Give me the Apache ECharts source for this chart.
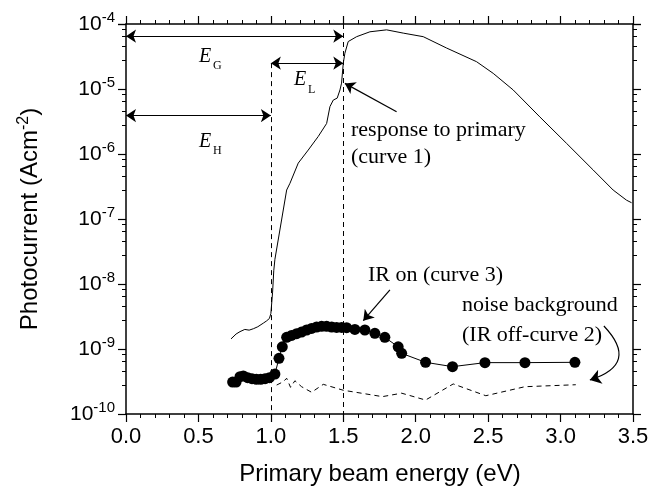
<!DOCTYPE html>
<html>
<head>
<meta charset="utf-8">
<script src="https://cdn.jsdelivr.net/npm/echarts@6/dist/echarts.min.js"></script>
<style>
  html, body { margin: 0; padding: 0; background: #fff; }
</style>
</head>
<body>
<div style="width:661px;height:491px;" id="photo_con"></div>
<script>
// curve 1 - response to primary
var curve1X = [0.725, 0.76, 0.787, 0.82, 0.85, 0.879, 0.91, 0.948, 0.97, 0.99, 1.0, 1.012, 1.02, 1.028, 1.109, 1.132, 1.189, 1.258, 1.327, 1.385, 1.408, 1.431, 1.458, 1.477, 1.488, 1.5, 1.511, 1.534, 1.592, 1.684, 1.799, 1.914, 2.052, 2.213, 2.42, 2.535, 2.673, 2.857, 3.041, 3.225, 3.363, 3.455, 3.49];
var curve1Y = [1.43e-9, 1.7e-9, 1.85e-9, 2.0e-9, 1.95e-9, 2.05e-9, 2.2e-9, 2.5e-9, 2.7e-9, 2.95e-9, 3.5e-9, 7.5e-9, 1.6e-8, 2.4e-8, 2.79e-7, 3.55e-7, 7.24e-7, 1.15e-6, 1.86e-6, 2.95e-6, 5.37e-6, 6.76e-6, 7.24e-6, 9.66e-6, 1.23e-5, 2.51e-5, 3.55e-5, 5.37e-5, 6.38e-5, 7.59e-5, 8.13e-5, 7.24e-5, 6.38e-5, 4.27e-5, 2.63e-5, 1.74e-5, 9.66e-6, 3.72e-6, 1.46e-6, 5.68e-7, 2.79e-7, 1.95e-7, 1.78e-7];

// curve 2 - noise background (IR off)
var curve2X = [1.04, 1.086, 1.109, 1.136, 1.166, 1.212, 1.281, 1.362, 1.5, 1.77, 1.903, 2.068, 2.259, 2.484, 2.754, 3.105];
var curve2Y = [2.79e-10, 3.14e-10, 3.55e-10, 2.57e-10, 3.25e-10, 2.63e-10, 2.16e-10, 2.86e-10, 2.32e-10, 1.85e-10, 2.09e-10, 1.64e-10, 2.9e-10, 1.91e-10, 2.63e-10, 2.82e-10];

// curve 3 - IR on
var curve3X = [0.736, 0.76, 0.787, 0.81, 0.84, 0.87, 0.9, 0.93, 0.96, 0.99, 1.028, 1.056, 1.079, 1.109, 1.143, 1.178, 1.212, 1.247, 1.281, 1.316, 1.35, 1.385, 1.42, 1.454, 1.489, 1.523, 1.58, 1.649, 1.718, 1.787, 1.879, 1.903, 2.068, 2.254, 2.478, 2.754, 3.099];
var curve3Y = [3.1e-10, 3.1e-10, 3.75e-10, 3.85e-10, 3.62e-10, 3.5e-10, 3.42e-10, 3.42e-10, 3.5e-10, 3.62e-10, 4.12e-10, 7.18e-10, 1.08e-9, 1.51e-9, 1.62e-9, 1.72e-9, 1.82e-9, 1.96e-9, 2.07e-9, 2.18e-9, 2.23e-9, 2.23e-9, 2.18e-9, 2.15e-9, 2.15e-9, 2.13e-9, 2.0e-9, 1.96e-9, 1.74e-9, 1.51e-9, 1.08e-9, 8.57e-10, 6.24e-10, 5.35e-10, 6.17e-10, 6.17e-10, 6.24e-10];

var xMin = 0, xMax = 3.5, yMin = 1e-10, yMax = 1e-4;

function pairs(xs, ys) {
    var out = [];
    for (var i = 0; i < xs.length; i++) {
        out.push([xs[i], ys[i]]);
    }
    return out;
}

var chart = echarts.init(document.getElementById('photo_con'));
var black = '#000';
var sansFont = '"Liberation Sans", Arial, sans-serif';
var serifFont = '"Liberation Serif", "Times New Roman", serif';

var supLabel = function (v) {
    var e = Math.round(Math.log10(v));
    return '{b|10}{s|' + e + '}';
};

function axisLine() { return { show: true, onZero: false, lineStyle: { color: black, width: 1.5 } }; }
function majorTick() { return { show: true, length: 8, lineStyle: { color: black, width: 1.2 } }; }
function minorTickX() { return { show: true, splitNumber: 5, length: 4, lineStyle: { color: black, width: 1 } }; }
function minorTickY() { return { show: true, length: 4, lineStyle: { color: black, width: 1 } }; }

var option = {
    animation: false,
    grid: { left: 126, right: 28, top: 24, bottom: 77 },
    xAxis: [
        {
            type: 'value', min: xMin, max: xMax, interval: 0.5,
            axisLine: axisLine(),
            axisTick: majorTick(),
            minorTick: minorTickX(),
            axisLabel: {
                fontFamily: sansFont, fontSize: 22, color: black, margin: 12,
                formatter: function (v) { return v.toFixed(1); }
            },
            splitLine: { show: false }
        },
        {
            type: 'value', min: xMin, max: xMax, interval: 0.5, position: 'top',
            axisLine: axisLine(),
            axisTick: majorTick(),
            minorTick: minorTickX(),
            axisLabel: { show: false },
            splitLine: { show: false }
        }
    ],
    yAxis: [
        {
            type: 'log', logBase: 10, min: yMin, max: yMax,
            axisLine: axisLine(),
            axisTick: majorTick(),
            minorTick: minorTickY(),
            axisLabel: {
                margin: 11,
                formatter: supLabel,
                rich: {
                    b: { fontFamily: sansFont, fontSize: 21, color: black },
                    s: { fontFamily: sansFont, fontSize: 15, color: black, verticalAlign: 'top', padding: [0, 0, 12, 0] }
                }
            },
            splitLine: { show: false }
        },
        {
            type: 'log', logBase: 10, min: yMin, max: yMax, position: 'right',
            axisLine: axisLine(),
            axisTick: majorTick(),
            minorTick: minorTickY(),
            axisLabel: { show: false },
            splitLine: { show: false }
        }
    ],
    series: [
        {
            name: 'curve 1',
            type: 'line',
            data: pairs(curve1X, curve1Y),
            showSymbol: false,
            symbol: 'none',
            lineStyle: { color: black, width: 1 },
            z: 3
        },
        {
            name: 'curve 2',
            type: 'line',
            data: pairs(curve2X, curve2Y),
            showSymbol: false,
            symbol: 'none',
            lineStyle: { color: black, width: 1, type: [5, 4] }
        },
        {
            name: 'curve 3',
            type: 'line',
            data: pairs(curve3X, curve3Y),
            symbol: 'circle',
            symbolSize: 11,
            showSymbol: true,
            itemStyle: { color: black },
            lineStyle: { color: black, width: 1 },
            z: 4
        },
        {
            // E_G, E_L, E_H double arrows
            name: 'gaps',
            type: 'lines',
            coordinateSystem: 'cartesian2d',
            silent: true,
            symbol: ['arrow', 'arrow'],
            symbolSize: 10,
            lineStyle: { color: black, width: 1.2, opacity: 1 },
            data: [
                { coords: [[0, 6.5e-5], [1.5, 6.5e-5]] },
                { coords: [[1.0, 2.5e-5], [1.5, 2.5e-5]] },
                { coords: [[0, 3.9e-6], [1.0, 3.9e-6]] }
            ]
        },
        {
            // pointers to curves 1 and 3
            name: 'pointers',
            type: 'lines',
            coordinateSystem: 'cartesian2d',
            silent: true,
            symbol: ['none', 'arrow'],
            symbolSize: 10,
            lineStyle: { color: black, width: 1.2, opacity: 1 },
            data: [
                { coords: [[1.868, 4.48e-6], [1.511, 1.22e-5]] },
                { coords: [[1.822, 8.1e-9], [1.638, 2.73e-9]] }
            ]
        },
        {
            // curved pointer to the noise background
            name: 'curved pointer',
            type: 'lines',
            coordinateSystem: 'cartesian2d',
            silent: true,
            symbol: ['none', 'arrow'],
            symbolSize: 11,
            lineStyle: { color: black, width: 1.2, curveness: 0.8, opacity: 1 },
            data: [{ coords: [[3.299, 2.26e-9], [3.202, 3.34e-10]] }]
        },
        {
            // dashed guides at 1.0 and 1.5 eV
            name: 'guides',
            type: 'lines',
            coordinateSystem: 'cartesian2d',
            silent: true,
            symbol: ['none', 'none'],
            lineStyle: { color: black, width: 1, type: [5, 4], opacity: 1 },
            data: [
                { coords: [[1.0, 2.5e-5], [1.0, 1e-10]] },
                { coords: [[1.5, 1e-4], [1.5, 1e-10]] }
            ]
        }
    ],
    graphic: [
        { type: 'text', x: 380, y: 474, style: { text: 'Primary beam energy (eV)', font: '24px ' + sansFont, fill: black, align: 'center', verticalAlign: 'middle' } },
        {
            type: 'text', x: 30, y: 219, rotation: Math.PI / 2,
            style: {
                text: '{t|Photocurrent (Acm}{s|-2}{t|)}', align: 'center', verticalAlign: 'middle',
                rich: {
                    t: { fontFamily: sansFont, fontSize: 24, fill: black },
                    s: { fontFamily: sansFont, fontSize: 16, fill: black, verticalAlign: 'top', padding: [0, 0, 12, 0] }
                }
            }
        },
        { type: 'text', left: 199, top: 47, style: { text: 'E', font: 'italic 20px ' + serifFont, fill: black } },
        { type: 'text', left: 213, top: 60, style: { text: 'G', font: '12px ' + serifFont, fill: black } },
        { type: 'text', left: 294, top: 70, style: { text: 'E', font: 'italic 20px ' + serifFont, fill: black } },
        { type: 'text', left: 308, top: 84, style: { text: 'L', font: '12px ' + serifFont, fill: black } },
        { type: 'text', left: 199, top: 132, style: { text: 'E', font: 'italic 20px ' + serifFont, fill: black } },
        { type: 'text', left: 213, top: 145, style: { text: 'H', font: '12px ' + serifFont, fill: black } },
        { type: 'text', left: 351, top: 119, style: { text: 'response to primary', font: '22px ' + serifFont, fill: black } },
        { type: 'text', left: 351, top: 146, style: { text: '(curve 1)', font: '22px ' + serifFont, fill: black } },
        { type: 'text', left: 368, top: 264, style: { text: 'IR on (curve 3)', font: '22px ' + serifFont, fill: black } },
        { type: 'text', left: 462, top: 294, style: { text: 'noise background', font: '22px ' + serifFont, fill: black } },
        { type: 'text', left: 462, top: 324, style: { text: '(IR off-curve 2)', font: '22px ' + serifFont, fill: black } }
    ]
};

chart.setOption(option);
window.addEventListener('resize', function () {
    chart.resize();
});
</script>
</body>
</html>
